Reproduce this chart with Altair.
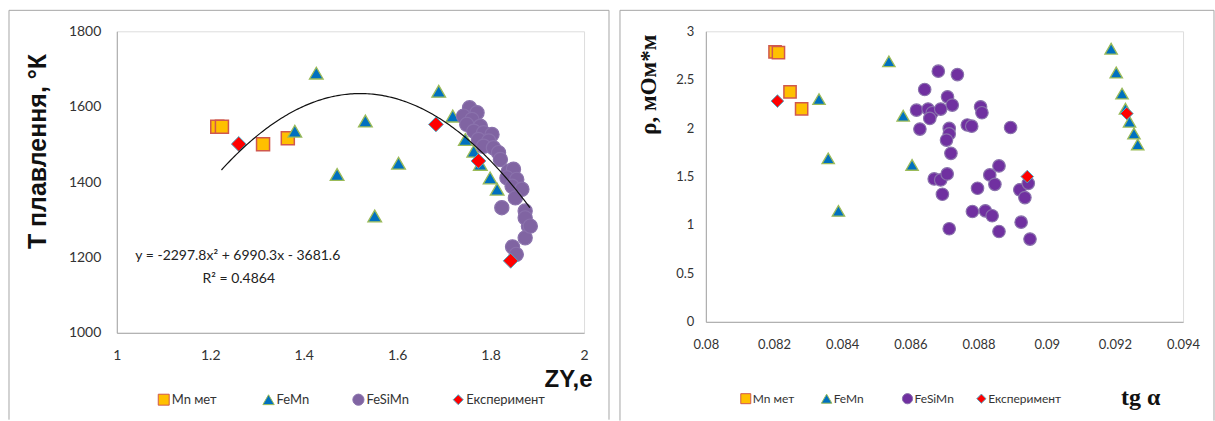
import altair as alt
import pandas as pd

SERIES = ["Mn мет", "FeMn", "FeSiMn", "Експеримент"]

# ---------------- Left chart: ZY,e  vs  T плавлення ----------------
mn_zy = [1.215, 1.225, 1.313, 1.366]
mn_t = [1547, 1547, 1500, 1516]
femn_zy = [1.427, 1.381, 1.532, 1.4715, 1.603, 1.552, 1.689, 1.719, 1.746, 1.764, 1.778, 1.799, 1.814]
femn_t = [1689, 1535, 1562, 1420, 1450, 1310, 1641, 1575, 1513, 1482, 1447, 1411, 1381]
fesimn_zy = [1.755, 1.771, 1.742, 1.760, 1.749, 1.778, 1.764, 1.785, 1.803, 1.774,
             1.796, 1.785, 1.806, 1.817, 1.821, 1.838, 1.849, 1.835, 1.856, 1.846,
             1.867, 1.853, 1.824, 1.874, 1.881, 1.874, 1.874, 1.847, 1.855, 1.885]
fesimn_t = [1597, 1584, 1575, 1566, 1553, 1548, 1535, 1531, 1526, 1513,
            1509, 1495, 1491, 1478, 1460, 1429, 1434, 1411, 1407, 1389,
            1381, 1358, 1332, 1323, 1283, 1305, 1252, 1228, 1208, 1283]
exp_zy = [1.261, 1.683, 1.774, 1.843]
exp_t = [1501, 1553, 1456, 1191]

# trendline as printed on the chart: y = -2297.8x^2 + 6990.3x - 3681.6
trend_coef = [-2297.8, 6990.3, -3681.6]
trend_range = [1.224, 1.886]
eq_text = ["y = -2297.8x² + 6990.3x - 3681.6", "R² = 0.4864"]

# ---------------- Right chart: tg α  vs  ρ ----------------
mn_tg = [0.08203, 0.08213, 0.08247, 0.08281]
mn_rho = [2.787, 2.78, 2.375, 2.20]
femn_tg = [0.08332, 0.08359, 0.08389, 0.08537, 0.08579, 0.08605,
           0.09189, 0.09204, 0.09221, 0.09231, 0.09243, 0.09256, 0.09267]
femn_rho = [2.30, 1.688, 1.146, 2.69, 2.128, 1.62,
            2.82, 2.574, 2.357, 2.20, 2.066, 1.945, 1.832]
fesimn_tg = [0.08682, 0.08738, 0.08642, 0.08709, 0.08723, 0.08618, 0.08652, 0.08664, 0.08657, 0.08689,
             0.08806, 0.0881, 0.08628, 0.08714, 0.08714, 0.08706, 0.08767, 0.0878, 0.08894, 0.08719,
             0.0867, 0.08689, 0.08708, 0.08694, 0.08797, 0.08833, 0.0886, 0.08848, 0.08921, 0.08936,
             0.08946, 0.08782, 0.0882, 0.0884, 0.08714, 0.08925, 0.0886, 0.08951]
fesimn_rho = [2.588, 2.553, 2.399, 2.323, 2.238, 2.186, 2.197, 2.159, 2.10, 2.197,
              2.22, 2.159, 1.99, 1.997, 1.94, 1.877, 2.032, 2.02, 2.007, 1.74,
              1.476, 1.465, 1.527, 1.317, 1.379, 1.517, 1.61, 1.42, 1.363, 1.283,
              1.43, 1.139, 1.146, 1.095, 0.961, 1.029, 0.933, 0.854]
exp_tg = [0.0821, 0.08943, 0.09235]
exp_rho = [2.279, 1.50, 2.151]

# ---------------- styles ----------------
SHAPES = ["square", "triangle-up", "circle", "diamond"]
STROKES = ["#D0584D", "#9BBB59", "#8A72AC", "#4BACC6"]
FILL_L = ["#FFC000", "#0070C0", "#8064A2", "#FF0000"]
FILL_R = ["#FFC000", "#0070C0", "#7030A0", "#FF0000"]
SIZE_L = [170, 220, 185, 140]
SIZE_R = [150, 160, 125, 130]
SW = [1.5, 1, 0.8, 1]

FONT = "Lato"
GREY = "#A6A6A6"


def make_df(groups):
    rows = []
    for name, xs, ys in groups:
        for a, b in zip(xs, ys):
            rows.append({"x": a, "y": b, "series": name})
    df = pd.DataFrame(rows)
    df["idx"] = range(len(df))
    return df


ONE = pd.DataFrame({"k": [0]})


def frame(x1, x2, y1, y2):
    base = alt.Chart(ONE)
    left = base.mark_rule(color=GREY, strokeWidth=1).encode(x=alt.value(x1), y=alt.value(y1), y2=alt.value(y2))
    right = base.mark_rule(color=GREY, strokeWidth=1).encode(x=alt.value(x2), y=alt.value(y1), y2=alt.value(y2))
    top = base.mark_rule(color=GREY, strokeWidth=1).encode(y=alt.value(y1), x=alt.value(x1), x2=alt.value(x2))
    return [left, right, top]


def legend(sym_x, text_x, y, fills, sym_sizes, font_size):
    layers = []
    for i, name in enumerate(SERIES):
        layers.append(
            alt.Chart(ONE).mark_point(filled=True, opacity=1, shape=SHAPES[i], fill=fills[i],
                                      stroke=STROKES[i], strokeWidth=1, size=sym_sizes[i])
            .encode(x=alt.value(sym_x[i]), y=alt.value(y))
        )
        layers.append(
            alt.Chart(ONE).mark_text(text=name, font=FONT, fontSize=font_size, color="#333",
                                     align="left", baseline="middle")
            .encode(x=alt.value(text_x[i]), y=alt.value(y))
        )
    return layers


def points(df, xscale, yscale, xaxis, yaxis, fills, sizes):
    return alt.Chart(df).mark_point(filled=True, opacity=1).encode(
        x=alt.X("x:Q", scale=xscale, axis=xaxis),
        y=alt.Y("y:Q", scale=yscale, axis=yaxis),
        fill=alt.Fill("series:N", scale=alt.Scale(domain=SERIES, range=fills), legend=None),
        stroke=alt.Stroke("series:N", scale=alt.Scale(domain=SERIES, range=STROKES), legend=None),
        shape=alt.Shape("series:N", scale=alt.Scale(domain=SERIES, range=SHAPES), legend=None),
        size=alt.Size("series:N", scale=alt.Scale(domain=SERIES, range=sizes), legend=None),
        strokeWidth=alt.StrokeWidth("series:N", scale=alt.Scale(domain=SERIES, range=SW), legend=None),
        order=alt.Order("idx:Q"),
    )


# ---------- left panel ----------
left_df = make_df([("Mn мет", mn_zy, mn_t), ("FeMn", femn_zy, femn_t),
                   ("FeSiMn", fesimn_zy, fesimn_t), ("Експеримент", exp_zy, exp_t)])

LW, LH = 468, 302
lx_axis = alt.Axis(values=[1, 1.2, 1.4, 1.6, 1.8, 2], format="~g", ticks=False, grid=False,
                   domainColor=GREY, labelFont=FONT, labelFontSize=14, labelColor="#333",
                   labelPadding=16, labelFlush=False, labelOverlap=False,
                   title="ZY,e", titleFont="Liberation Sans", titleFontSize=24, titleFontWeight="bold",
                   titleColor="#111", titleX=452, titleY=47, titleAlign="center", titleBaseline="middle")
ly_axis = alt.Axis(values=list(range(1000, 1801, 100)), format="d", ticks=False, grid=False,
                   domainColor=GREY, labelFont=FONT, labelFontSize=14, labelColor="#333",
                   labelPadding=16, labelOverlap=False,
                   title="T плавлення, °К", titleFont="Liberation Sans", titleFontSize=25,
                   titleFontWeight="bold", titleColor="#111", titleAngle=270,
                   titleX=-79, titleY=120, titleAlign="center", titleBaseline="middle")

l_pts = points(left_df,
               alt.Scale(domain=[1, 2], nice=False, zero=False),
               alt.Scale(domain=[1000, 1800], nice=False, zero=False),
               lx_axis, ly_axis, FILL_L, SIZE_L)

a, b, c = trend_coef
l_trend = alt.Chart(alt.sequence(trend_range[0], trend_range[1], 0.004, as_="x")).transform_calculate(
    y=f"({a})*datum.x*datum.x + ({b})*datum.x + ({c})"
).mark_line(color="#111", strokeWidth=1.2).encode(x="x:Q", y="y:Q")

eq_df = pd.DataFrame({"x": [1.259, 1.261], "y": [1205, 1144], "t": eq_text})
l_eq = alt.Chart(eq_df).mark_text(font=FONT, fontSize=14, color="#222").encode(
    x="x:Q", y="y:Q", text="t:N")

l_leg = legend([47, 152, 242, 342], [55, 160, 250, 350], 369, FILL_L, [120, 130, 125, 100], 13)

left = alt.layer(*frame(-108, 493, -21, 389), l_pts, l_trend, l_eq, *l_leg).properties(width=LW, height=LH)

# ---------- right panel ----------
right_df = make_df([("Mn мет", mn_tg, mn_rho), ("FeMn", femn_tg, femn_rho),
                    ("FeSiMn", fesimn_tg, fesimn_rho), ("Експеримент", exp_tg, exp_rho)])

RW, RH = 478, 291
rx_axis = alt.Axis(values=[0.08, 0.082, 0.084, 0.086, 0.088, 0.09, 0.092, 0.094], format="~g",
                   ticks=False, grid=False, domainColor=GREY, labelFont=FONT, labelFontSize=13,
                   labelColor="#333", labelPadding=17, labelFlush=False, labelOverlap=False,
                   title="tg α", titleFont="Liberation Serif", titleFontSize=24, titleFontWeight="bold",
                   titleColor="#111", titleX=435, titleY=76, titleAlign="center", titleBaseline="middle")
ry_axis = alt.Axis(values=[0, 0.5, 1, 1.5, 2, 2.5, 3], format="~g", ticks=False, grid=False,
                   domainColor=GREY, labelFont=FONT, labelFontSize=13, labelColor="#333",
                   labelPadding=12, labelOverlap=False,
                   title="ρ, мОм*м", titleFont="Liberation Serif", titleFontSize=23,
                   titleFontWeight="bold", titleColor="#111", titleAngle=270,
                   titleX=-57, titleY=53, titleAlign="center", titleBaseline="middle")

r_pts = points(right_df,
               alt.Scale(domain=[0.08, 0.094], nice=False, zero=False),
               alt.Scale(domain=[0, 3], nice=False, zero=False),
               rx_axis, ry_axis, FILL_R, SIZE_R)

r_leg = legend([40, 121, 202, 276], [47, 128, 209, 283], 368, FILL_R, [100, 110, 105, 85], 12)

right = alt.layer(*frame(-86, 509, -21, 390), r_pts, *r_leg).properties(width=RW, height=RH)

chart = alt.hconcat(left, right, spacing=9).resolve_scale(
    x="independent", y="independent", fill="independent", stroke="independent",
    shape="independent", size="independent", strokeWidth="independent"
).properties(
    padding={"left": 8, "top": 9, "right": 0, "bottom": 0}
).configure_view(stroke=None).configure(background="white")

chart.save("out.html", embed_options={"renderer": "svg", "actions": False})
